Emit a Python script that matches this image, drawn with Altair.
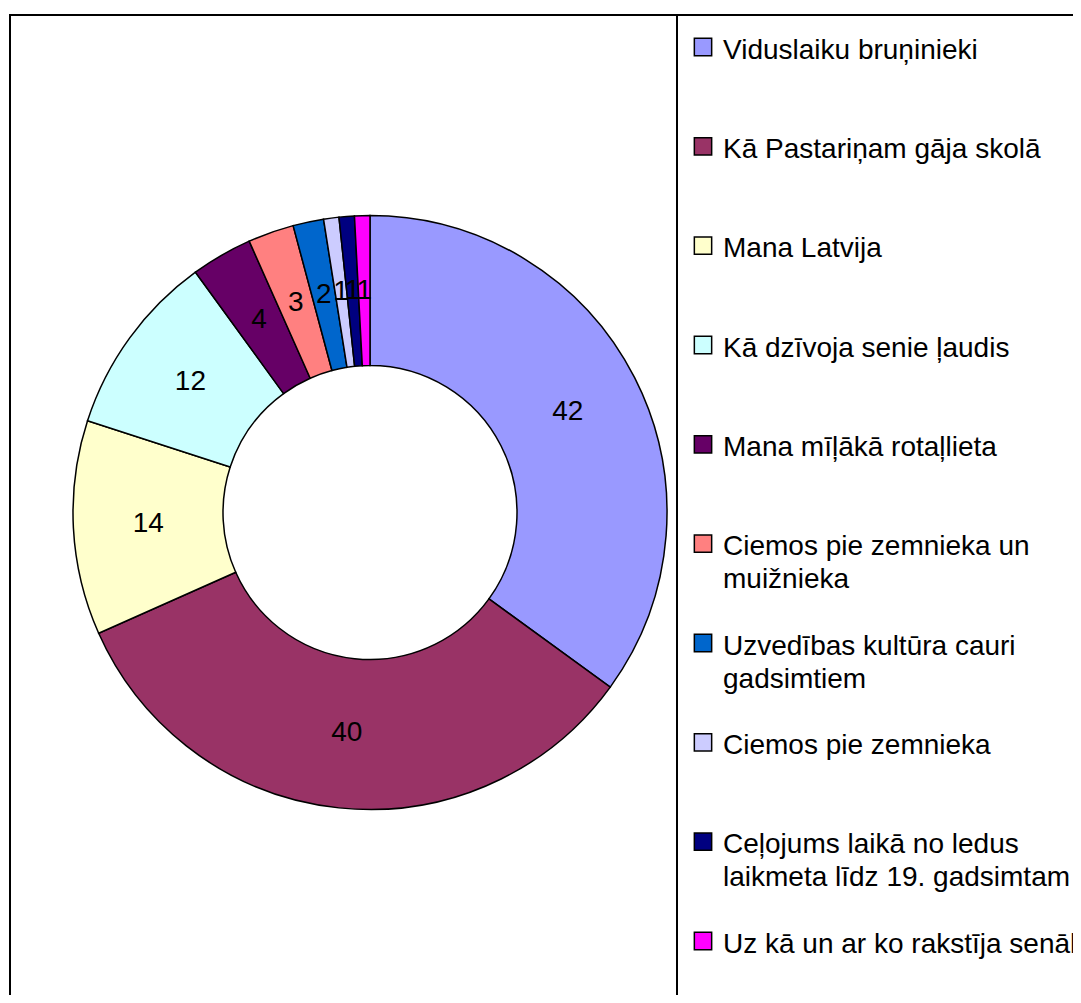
import altair as alt
import pandas as pd

categories = [
    "Viduslaiku bruņinieki",
    "Kā Pastariņam gāja skolā",
    "Mana Latvija",
    "Kā dzīvoja senie ļaudis",
    "Mana mīļākā rotaļlieta",
    "Ciemos pie zemnieka un muižnieka",
    "Uzvedības kultūra cauri gadsimtiem",
    "Ciemos pie zemnieka",
    "Ceļojums laikā no ledus laikmeta līdz 19. gadsimtam",
    "Uz kā un ar ko rakstīja senāk",
]
legend_labels = [
    "Viduslaiku bruņinieki",
    "Kā Pastariņam gāja skolā",
    "Mana Latvija",
    "Kā dzīvoja senie ļaudis",
    "Mana mīļākā rotaļlieta",
    "Ciemos pie zemnieka un\nmuižnieka",
    "Uzvedības kultūra cauri\ngadsimtiem",
    "Ciemos pie zemnieka",
    "Ceļojums laikā no ledus\nlaikmeta līdz 19. gadsimtam",
    "Uz kā un ar ko rakstīja senāk",
]
values = [42, 40, 14, 12, 4, 3, 2, 1, 1, 1]
colors = ["#9999FF", "#993366", "#FFFFCC", "#CCFFFF", "#660066",
          "#FF8080", "#0066CC", "#CCCCFF", "#000080", "#FF00FF"]

df = pd.DataFrame({
    "cat": categories,
    "label": legend_labels,
    "value": values,
    "idx": list(range(len(values))),
})

FONT = "Liberation Sans"
color_enc = alt.Color("cat:N", scale=alt.Scale(domain=categories, range=colors), legend=None)
CX, CY = 362, 504.5

base = alt.Chart(df)

arc = base.mark_arc(innerRadius=147, outerRadius=297, stroke="black", strokeWidth=1.5).encode(
    theta=alt.Theta("value:Q", stack=True),
    color=color_enc,
    order=alt.Order("idx:Q"),
    x=alt.value(CX),
    y=alt.value(CY),
)

labels = base.mark_text(radius=222, fontSize=28, font=FONT, color="black").encode(
    theta=alt.Theta("value:Q", stack=True),
    order=alt.Order("idx:Q"),
    text=alt.Text("value:Q"),
    x=alt.value(CX),
    y=alt.value(CY),
)

ypos = alt.Y("idx:Q", scale=alt.Scale(domain=[0, 9], range=[39, 933]), axis=None)

swatches = base.mark_square(size=300, stroke="black", strokeWidth=1.5, opacity=1).encode(
    x=alt.value(695),
    y=ypos,
    color=color_enc,
)

legend_text = base.mark_text(
    align="left", baseline="top", dy=-10.5, fontSize=28, font=FONT,
    color="black", lineBreak="\n", lineHeight=33,
).encode(
    x=alt.value(715),
    y=ypos,
    text=alt.Text("label:N"),
)

left_line = alt.Chart(df).mark_rule(color="black", strokeWidth=2).encode(
    x=alt.value(2), y=alt.value(7), y2=alt.value(987))
top_line = alt.Chart(df).mark_rule(color="black", strokeWidth=2).encode(
    x=alt.value(1), x2=alt.value(1065), y=alt.value(7))
sep_line = alt.Chart(df).mark_rule(color="black", strokeWidth=2).encode(
    x=alt.value(669), y=alt.value(7), y2=alt.value(987))

chart = alt.layer(arc, labels, swatches, legend_text, left_line, top_line, sep_line).properties(
    width=1065, height=987,
    autosize=alt.AutoSizeParams(type="none"),
    padding=0,
    background="white",
).configure_view(stroke=None)

chart.save("out.html", embed_options={"renderer": "svg", "actions": False})
